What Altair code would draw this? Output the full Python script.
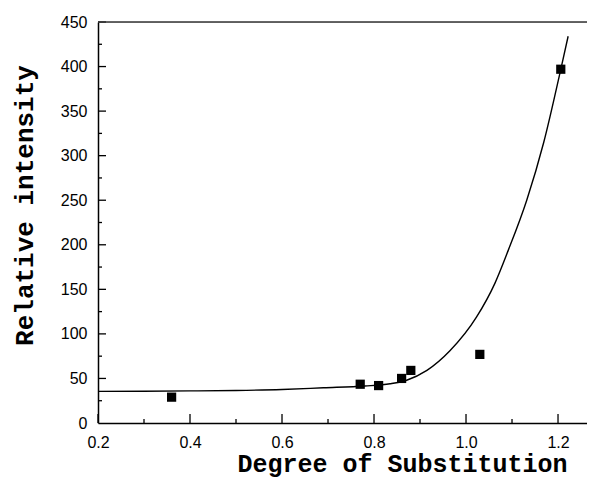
import altair as alt
import pandas as pd

# measured points
pt_x = [0.36, 0.77, 0.81, 0.86, 0.88, 1.03, 1.206]
pt_y = [29, 43.5, 42, 50, 59, 77, 397]

# fitted curve
curve_x = [0.20, 0.30, 0.40, 0.50, 0.60, 0.69, 0.78, 0.835, 0.871, 0.915, 0.965, 1.023,
           1.063, 1.092, 1.132, 1.169, 1.2065, 1.222]
curve_y = [35.5, 35.7, 36.0, 36.5, 37.6, 39.5, 41.5, 44.0, 48.0, 59.0, 81.0, 119.0,
           157.0, 194.0, 250.0, 315.0, 398.0, 434.0]

x_major = [0.2, 0.4, 0.6, 0.8, 1.0, 1.2]
x_minor = [0.3, 0.5, 0.7, 0.9, 1.1]
y_major = [0, 50, 100, 150, 200, 250, 300, 350, 400, 450]
y_minor = [25, 75, 125, 175, 225, 275, 325, 375, 425]

W, H = 489, 401

pts = pd.DataFrame({"x": pt_x, "y": pt_y})
crv = pd.DataFrame({"x": curve_x, "y": curve_y})

xs = alt.Scale(domain=[0.2, 1.263], nice=False, zero=False)
ys = alt.Scale(domain=[0, 450], nice=False)

label_font = "Liberation Sans"
title_font = "Liberation Mono"

x_axis = alt.Axis(values=x_major, format=".1f", ticks=False, grid=False,
                  labelFont=label_font, labelFontSize=16, labelColor="black",
                  labelPadding=11, domainColor="black", domainWidth=1.5,
                  title="Degree of Substitution", titleFont=title_font,
                  titleFontSize=25, titleFontWeight="bold", titleColor="black",
                  titleX=304, titleY=48, titleAlign="center",
                  titleBaseline="alphabetic", labelFlush=False)
y_axis = alt.Axis(values=y_major, format="d", ticks=False, grid=False,
                  labelFont=label_font, labelFontSize=16, labelColor="black",
                  labelPadding=11, domainColor="black", domainWidth=1.5,
                  title="Relative intensity", titleFont=title_font,
                  titleFontSize=26, titleFontWeight="bold", titleColor="black",
                  titleX=-74, titleY=183, titleAlign="center",
                  titleBaseline="middle", titleAngle=270, labelFlush=False)

X = alt.X("x:Q", scale=xs, axis=x_axis)
Y = alt.Y("y:Q", scale=ys, axis=y_axis)

line = alt.Chart(crv).mark_line(color="black", strokeWidth=1.4,
                                interpolate="monotone").encode(x=X, y=Y)

squares = alt.Chart(pts).mark_square(color="black", size=85, opacity=1).encode(
    x=X, y=Y)

xmaj = alt.Chart(pd.DataFrame({"x": x_major})).mark_rule(
    color="black", strokeWidth=1.3).encode(
    x=X, y=alt.value(H), y2=alt.value(H - 9))
xmin = alt.Chart(pd.DataFrame({"x": x_minor})).mark_rule(
    color="black", strokeWidth=1.3).encode(
    x=X, y=alt.value(H), y2=alt.value(H - 4))
ymaj = alt.Chart(pd.DataFrame({"y": y_major[1:]})).mark_rule(
    color="black", strokeWidth=1.3).encode(
    y=Y, x=alt.value(0), x2=alt.value(8))
ymin = alt.Chart(pd.DataFrame({"y": y_minor})).mark_rule(
    color="black", strokeWidth=1.3).encode(
    y=Y, x=alt.value(0), x2=alt.value(4))
top = alt.Chart(pd.DataFrame({"y": [450]})).mark_rule(
    color="#333333", strokeWidth=1.5).encode(
    y=Y, x=alt.value(0), x2=alt.value(W))

chart = alt.layer(line, squares, xmaj, xmin, ymaj, ymin, top).properties(
    width=W, height=H,
    autosize=alt.AutoSizeParams(type="none"),
    padding={"left": 90, "top": 14, "right": 0, "bottom": 56},
).configure_view(stroke=None).configure(background="white")

chart.save("out.html", embed_options={"renderer": "svg", "actions": False})
